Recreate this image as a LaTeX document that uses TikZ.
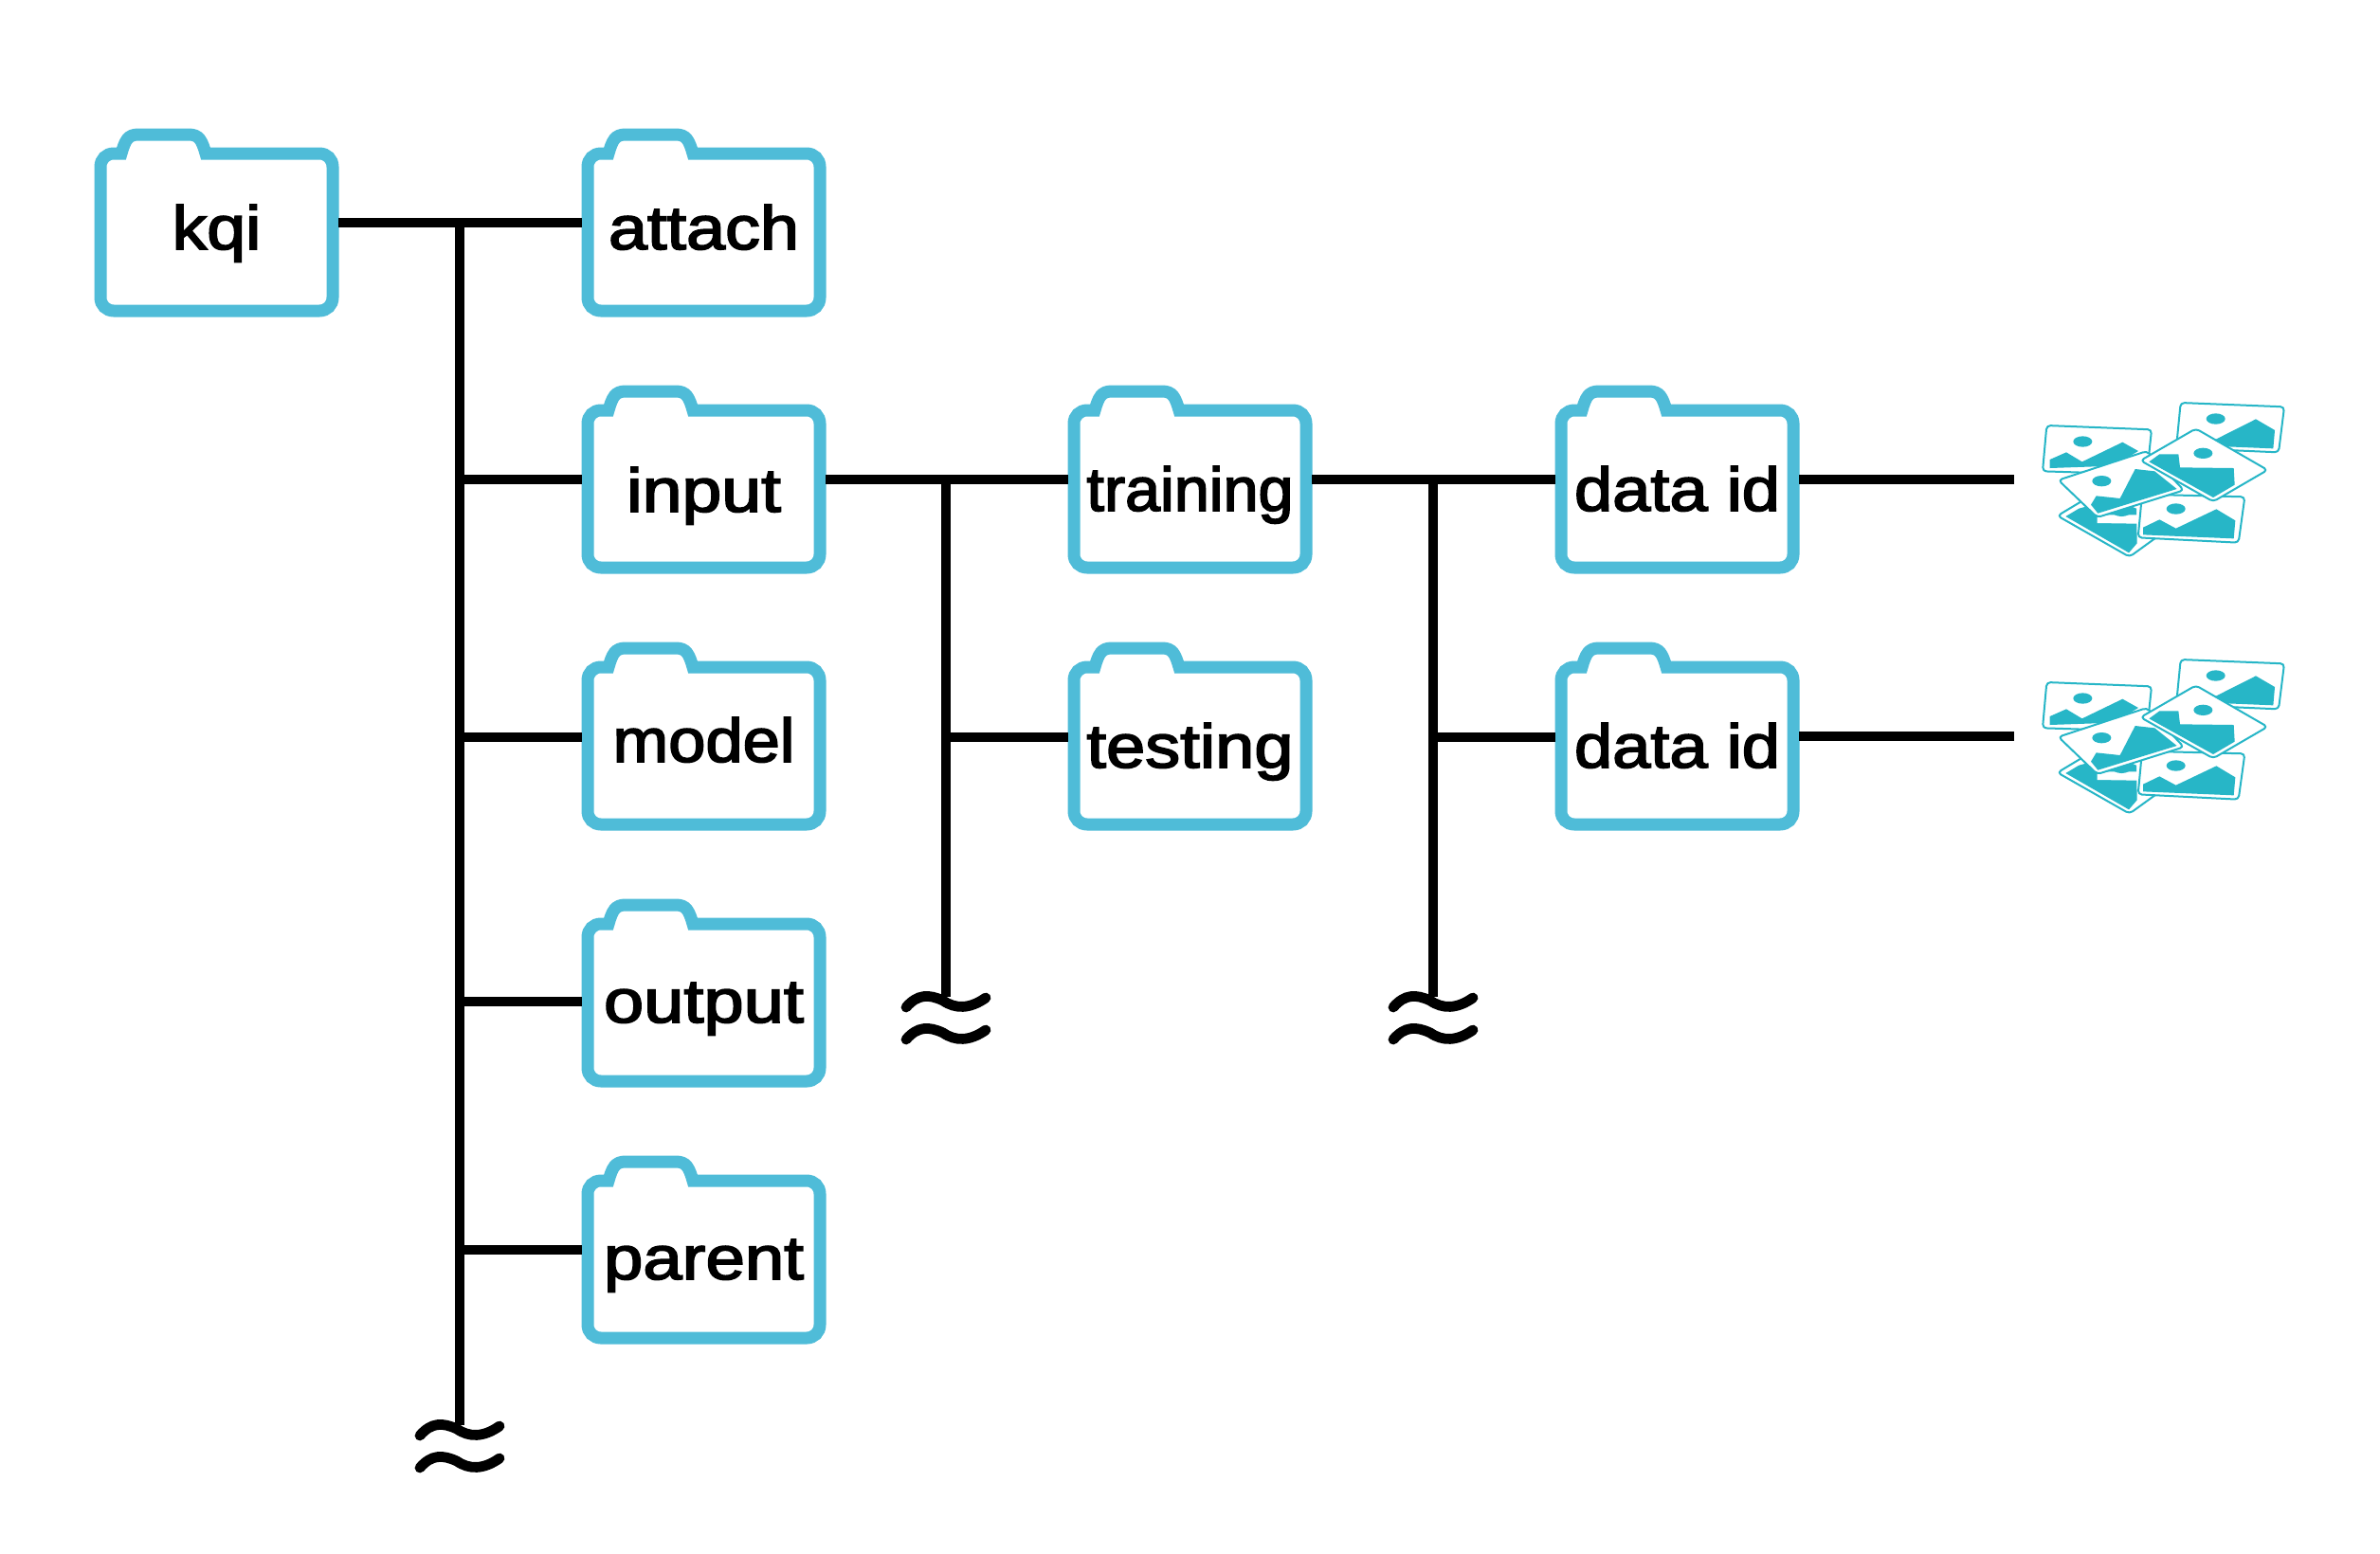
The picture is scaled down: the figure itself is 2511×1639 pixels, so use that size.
\documentclass[tikz,border=0pt]{standalone}
\usepackage{graphicx}
\usepackage{fontspec}
\setmainfont{Liberation Sans}[FakeBold=2.5]
\definecolor{folderblue}{HTML}{4FBCD8}
\definecolor{phototeal}{HTML}{27B6C7}
\newdimen\pxu \pxu=0.5pt
\tikzset{
  x=0.5pt,y=-0.5pt,
  folderline/.style={draw=folderblue,fill=white,line width=6.5pt,miter limit=10},
  folderbox/.style={draw=none,fill=none,inner sep=0pt,minimum width=128.5pt,minimum height=89pt},
  flabel/.style={anchor=base,inner sep=0pt,text=black,font=\fontsize{32.5pt}{34pt}\selectfont},
  conn/.style={draw=black,line width=4.8pt},
  wave/.style={draw=black,line width=5.4pt,line cap=round},
  photoframe/.style={draw=phototeal,fill=white,line width=1pt,rounded corners=2pt,line join=round},
  photofill/.style={fill=phototeal,draw=none},
}
% #1 name, #2 left, #3 top, #4 baseline, #5 text width in px, #6 text
\newcommand{\folderitem}[6]{%
  \begin{scope}[shift={(#2,#3)}]
    \path[folderline] (6,40) .. controls (6,32) and (12,26) .. (20,26) -- (28,26)
      .. controls (32,12) and (35,6) .. (46,6) -- (99,6)
      .. controls (110,6) and (113,12) .. (117,26) -- (237,26)
      .. controls (245,26) and (251,32) .. (251,40) -- (251,178)
      .. controls (251,186) and (245,192) .. (237,192) -- (20,192)
      .. controls (12,192) and (6,186) .. (6,178) -- cycle;
  \end{scope}
  \node[folderbox] (#1) at ({#2+128.5},{#3+109}) {};
  \node[flabel] (#1-text) at ({#2+128.5},#4) {\resizebox{#5\pxu}{\height}{#6}};
}
% #1 x offset, #2 y offset
\newcommand{\photostack}[2]{%
  \begin{scope}[shift={(#1,#2)},x=0.16667pt,y=-0.16667pt]
    % lower left card
    \path[photoframe] (122,403) -- (300,296) -- (520,410) -- (350,533) -- cycle;
    \path[photofill] (148,405) -- (190,380) -- (300,350) -- (372,380) -- (374,490) -- (348,520) -- cycle;
    \path[fill=white] (248,400) -- (375,400) -- (375,428) -- (248,426) -- cycle;
    \fill[phototeal] (325,388) ellipse [x radius=30,y radius=17];
    % upper left card
    \path[photoframe] (88,117) -- (420,130) -- (405,272) -- (75,262) -- cycle;
    \path[photofill] (98,225) -- (150,202) -- (200,232) -- (328,170) -- (378,198) -- (300,245) -- (98,252) -- cycle;
    \fill[phototeal] (202,168) ellipse [x radius=30,y radius=17];
    % upper right card
    \path[photoframe] (512,45) -- (840,58) -- (822,202) -- (498,188) -- cycle;
    \path[photofill] (560,180) -- (625,160) -- (750,97) -- (810,132) -- (805,190) -- cycle;
    \fill[phototeal] (623,96) ellipse [x radius=30,y radius=17];
    % lower right card
    \path[photoframe] (390,335) -- (715,343) -- (695,488) -- (377,472) -- cycle;
    \path[photofill] (393,440) -- (445,415) -- (497,443) -- (625,382) -- (685,418) -- (680,475) -- (393,463) -- cycle;
    \fill[phototeal] (497,381) ellipse [x radius=30,y radius=17];
    % centre left card
    \path[photoframe] (125,290) -- (405,198) -- (522,322) -- (248,408) -- cycle;
    \path[photofill] (228,368) -- (245,340) -- (320,348) -- (368,255) -- (430,262) -- (500,318) -- (250,395) -- cycle;
    \fill[phototeal] (262,293) ellipse [x radius=30,y radius=17];
    % centre right card
    \path[photoframe] (385,228) -- (560,127) -- (787,258) -- (615,358) -- cycle;
    \path[photofill] (412,232) -- (445,208) -- (505,208) -- (510,250) -- (680,252) -- (683,305) -- (615,345) -- cycle;
    \fill[phototeal] (583,205) ellipse [x radius=30,y radius=17];
  \end{scope}
}
% #1 x centre, #2 y of first stroke
\newcommand{\waveglyph}[2]{%
  \path[wave] ({#1-42},{#2+11}) .. controls ({#1-30},{#2-3}) and ({#1-18},{#2-3}) .. ({#1-3},{#2+4})
     .. controls ({#1+10},{#2+13}) and ({#1+25},{#2+13}) .. ({#1+42},{#2+1});
  \path[wave] ({#1-42},{#2+45}) .. controls ({#1-30},{#2+31}) and ({#1-18},{#2+31}) .. ({#1-3},{#2+38})
     .. controls ({#1+10},{#2+47}) and ({#1+25},{#2+47}) .. ({#1+42},{#2+35});
}
\begin{document}
\begin{tikzpicture}
\useasboundingbox (0,0) rectangle (2511,1639);
\fill[white] (0,0) rectangle (2511,1639);

\coordinate (a) at (485,235);
\coordinate (aend) at (485,1504);
\coordinate (b) at (998,506);
\coordinate (bend) at (998,1052);
\coordinate (c) at (1512,506);
\coordinate (cend) at (1512,1052);
\coordinate (r1) at (0,778);
\coordinate (r2) at (0,1057);
\coordinate (r3) at (0,1319);
\coordinate (p1) at (2125,506);
\coordinate (p2) at (2125,777);

\folderitem{kqi}{100}{136}{263}{94}{kqi}
\folderitem{attach}{614}{136}{263}{201}{attach}
\folderitem{input}{614}{407}{540}{163}{input}
\folderitem{model}{614}{678}{804}{192}{model}
\folderitem{output}{614}{949}{1079}{211}{output}
\folderitem{parent}{614}{1220}{1350}{211}{parent}
\folderitem{training}{1127}{407}{539}{218}{training}
\folderitem{testing}{1127}{678}{810}{218}{testing}
\folderitem{dataa}{1641}{407}{539}{217}{data id}
\folderitem{datab}{1641}{678}{810}{217}{data id}

\draw[conn] (a) -- (aend);
\draw[conn] (b) -- (bend);
\draw[conn] (c) -- (cend);
\draw[conn] (kqi.east |- a) -- (attach.west |- a);
\draw[conn] (a |- b) -- (input.west |- b);
\draw[conn] (a |- r1) -- (model.west |- r1);
\draw[conn] (a |- r2) -- (output.west |- r2);
\draw[conn] (a |- r3) -- (parent.west |- r3);
\draw[conn] (input.east |- b) -- (training.west |- b);
\draw[conn] (b |- r1) -- (testing.west |- r1);
\draw[conn] (training.east |- c) -- (dataa.west |- c);
\draw[conn] (c |- r1) -- (datab.west |- r1);
\draw[conn] (dataa.east |- p1) -- (p1);
\draw[conn] (datab.east |- p2) -- (p2);

\waveglyph{485}{1504}
\waveglyph{998}{1052}
\waveglyph{1512}{1052}
\photostack{2130}{410}
\photostack{2130}{681}
\end{tikzpicture}
\end{document}
